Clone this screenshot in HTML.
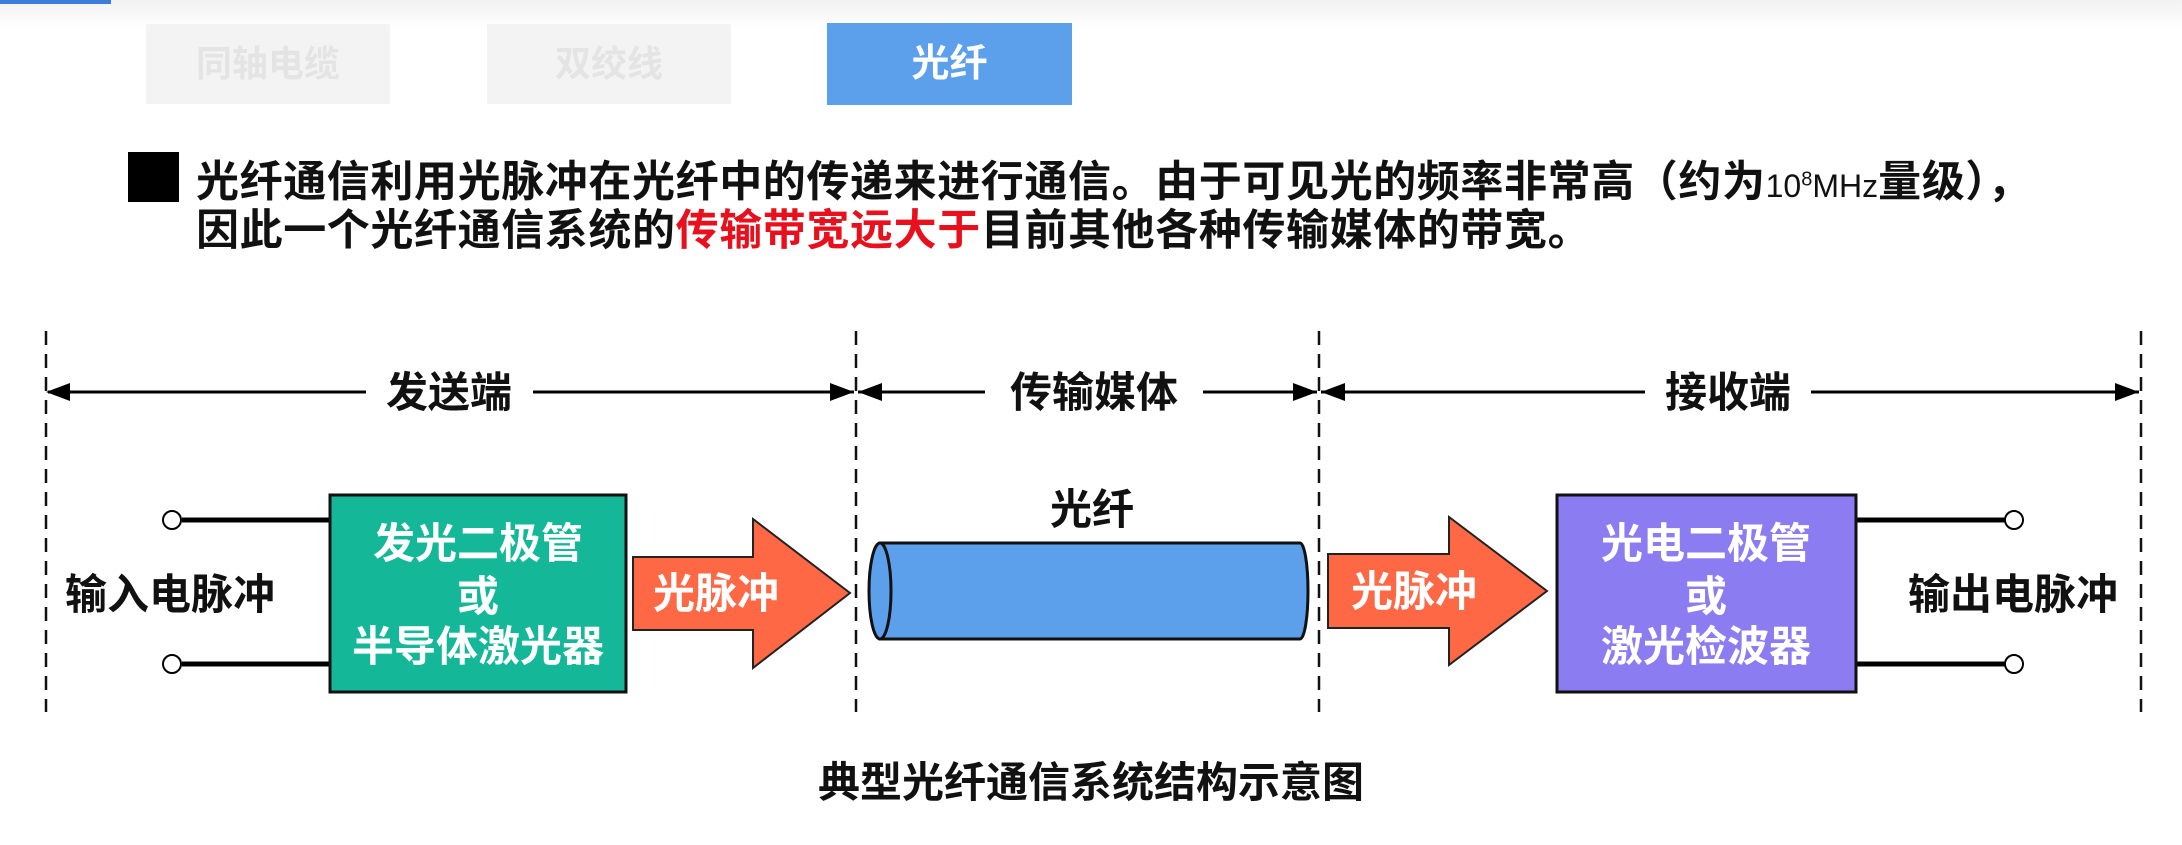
<!DOCTYPE html>
<html><head><meta charset="utf-8"><style>
html,body{margin:0;padding:0;background:#fff;}
body{width:2182px;height:845px;overflow:hidden;position:relative;font-family:"Liberation Sans","Noto Sans CJK SC",sans-serif;}
.t{position:absolute;font-weight:bold;}
</style></head><body>
<div style="position:absolute;left:0;top:0;width:2182px;height:30px;background:linear-gradient(#f2f2f2,#fff);"></div>
<div style="position:absolute;left:0;top:0;width:111px;height:4px;background:#3b7dd8;"></div>
<div style="position:absolute;left:146px;top:24px;width:244px;height:80px;background:#f3f3f3;color:#e4e4e4;font-size:36px;font-weight:bold;text-align:center;line-height:80px;">同轴电缆</div>
<div style="position:absolute;left:487px;top:24px;width:244px;height:80px;background:#f3f3f3;color:#e4e4e4;font-size:36px;font-weight:bold;text-align:center;line-height:80px;">双绞线</div>
<div style="position:absolute;left:827px;top:23px;width:245px;height:82px;background:#5c9fea;color:#fff;font-size:38px;font-weight:bold;text-align:center;line-height:82px;">光纤</div>
<div style="position:absolute;left:128px;top:152px;width:51px;height:50px;background:#000;"></div>
<div class="t" style="left:196px;top:153px;font-size:43px;letter-spacing:0.6px;line-height:52px;color:#111;white-space:nowrap;">光纤通信利用光脉冲在光纤中的传递来进行通信。由于可见光的频率非常高（约为<span style="font-size:32px;font-weight:normal;letter-spacing:0">10<sup style="font-size:20px">8</sup>MHz</span>量级），</div>
<div class="t" style="left:196px;top:205px;font-size:43px;letter-spacing:0.6px;line-height:52px;color:#111;white-space:nowrap;">因此一个光纤通信系统的<span style="color:#e8101c">传输带宽远大于</span>目前其他各种传输媒体的带宽。</div>
<svg width="2182" height="845" style="position:absolute;left:0;top:0" xmlns="http://www.w3.org/2000/svg">
<g stroke="#111" stroke-width="2.5" stroke-dasharray="14,9">
<line x1="46" y1="331" x2="46" y2="712"/><line x1="856" y1="331" x2="856" y2="712"/>
<line x1="1319" y1="331" x2="1319" y2="712"/><line x1="2141" y1="331" x2="2141" y2="712"/>
</g>
<g stroke="#000" stroke-width="3">
<line x1="48" y1="392" x2="366" y2="392"/><line x1="533" y1="392" x2="854" y2="392"/>
<line x1="858" y1="392" x2="985" y2="392"/><line x1="1203" y1="392" x2="1317" y2="392"/>
<line x1="1321" y1="392" x2="1645" y2="392"/><line x1="1811" y1="392" x2="2139" y2="392"/>
</g>
<g fill="#000">
<polygon points="46,392 70,383 70,401"/><polygon points="854,392 830,383 830,401"/>
<polygon points="858,392 882,383 882,401"/><polygon points="1317,392 1293,383 1293,401"/>
<polygon points="1321,392 1345,383 1345,401"/><polygon points="2139,392 2115,383 2115,401"/>
</g>
<g font-family="Liberation Sans,Noto Sans CJK SC,sans-serif" font-weight="bold" font-size="42" fill="#111" text-anchor="middle">
<text x="449" y="407">发送端</text><text x="1094" y="407">传输媒体</text><text x="1728" y="407">接收端</text>
<text x="1092" y="524">光纤</text>
<text x="170" y="609">输入电脉冲</text><text x="2013" y="609">输出电脉冲</text>
<text x="1091" y="797">典型光纤通信系统结构示意图</text>
</g>
<g stroke="#000" stroke-width="5">
<line x1="182" y1="520" x2="330" y2="520"/><line x1="182" y1="664" x2="330" y2="664"/>
<line x1="1856" y1="520" x2="2005" y2="520"/><line x1="1856" y1="664" x2="2005" y2="664"/>
</g>
<g fill="#fff" stroke="#000" stroke-width="2">
<circle cx="172" cy="520" r="9"/><circle cx="172" cy="664" r="9"/>
<circle cx="2014" cy="520" r="9"/><circle cx="2014" cy="664" r="9"/>
</g>
<rect x="330" y="495" width="296" height="197" fill="#14b898" stroke="#111" stroke-width="3"/>
<rect x="1557" y="495" width="299" height="197" fill="#8c7cf2" stroke="#111" stroke-width="3"/>
<polygon points="633,557 753,557 753,519 850,593 753,668 753,630 633,630" fill="#fe6845" stroke="#222" stroke-width="2"/>
<polygon points="1328,554 1449,554 1449,517 1547,591 1449,665 1449,628 1328,628" fill="#fe6845" stroke="#222" stroke-width="2"/>
<path d="M880,543 L1300,543 A8,48 0 0 1 1300,639 L880,639 Z" fill="#5c9fea" stroke="#111" stroke-width="3"/>
<ellipse cx="880" cy="591" rx="11" ry="48" fill="#5c9fea" stroke="#111" stroke-width="3"/>
<g font-family="Liberation Sans,Noto Sans CJK SC,sans-serif" font-weight="bold" font-size="42" fill="#fff" text-anchor="middle">
<text x="478" y="558">发光二极管</text><text x="478" y="611">或</text><text x="478" y="661">半导体激光器</text>
<text x="1706" y="558">光电二极管</text><text x="1706" y="611">或</text><text x="1706" y="661">激光检波器</text>
<text x="716" y="608">光脉冲</text><text x="1414" y="606">光脉冲</text>
</g>
</svg>
</body></html>
